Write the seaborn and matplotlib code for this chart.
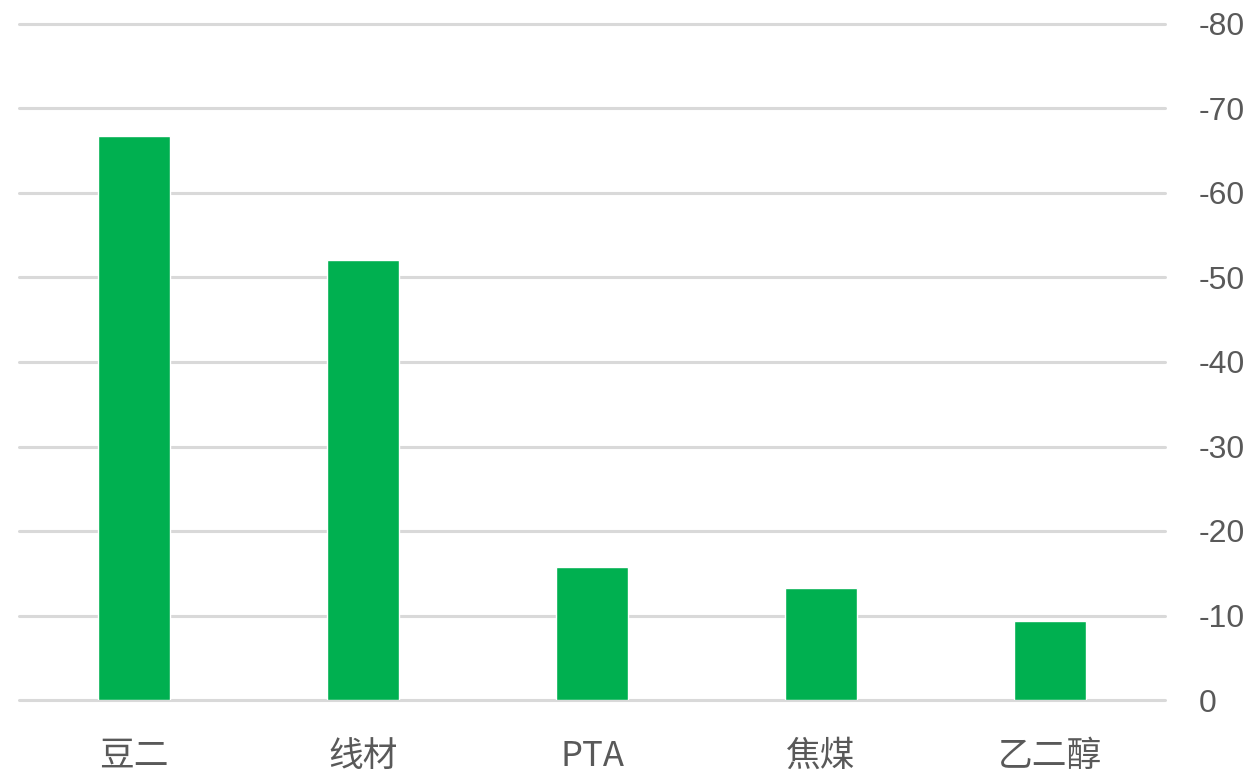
import pandas as pd
import seaborn as sns
import matplotlib.pyplot as plt

categories = ['豆二', '线材', 'PTA', '焦煤', '乙二醇']
values = [-66.8, -52.1, -15.7, -13.2, -9.4]
yticks = [0, -10, -20, -30, -40, -50, -60, -70, -80]

df = pd.DataFrame({'name': categories, 'value': values})

sns.set_style('white')
plt.rcParams['font.family'] = ['Noto Sans CJK SC', 'DejaVu Sans']
plt.rcParams['axes.unicode_minus'] = False

fig = plt.figure(figsize=(12.47, 7.81), dpi=100)
ax = fig.add_axes([19 / 1247, 1 - 700 / 781, 1146 / 1247, 676 / 781])

sns.barplot(data=df, x='name', y='value', color='#00B050', width=0.314,
            saturation=1, ax=ax, zorder=3)

ax.set_ylim(0, -80)
ax.set_yticks(yticks)
ax.set_yticklabels([str(t) for t in yticks], family='Liberation Sans')
ax.yaxis.tick_right()
ax.tick_params(axis='y', length=0, pad=24, labelsize=23, labelcolor='#595959')
ax.tick_params(axis='x', length=0, pad=28, labelsize=25, labelcolor='#595959')
ax.set_xlim(-0.5, len(categories) - 0.5)
ax.grid(axis='y', color='#D9D9D9', linewidth=2.2, zorder=0)
for line in ax.get_ygridlines():
    line.set_clip_on(False)
ax.set_xlabel('')
ax.set_ylabel('')
sns.despine(left=True, bottom=True, right=True, top=True)

fig.savefig('out.png', dpi=100)
